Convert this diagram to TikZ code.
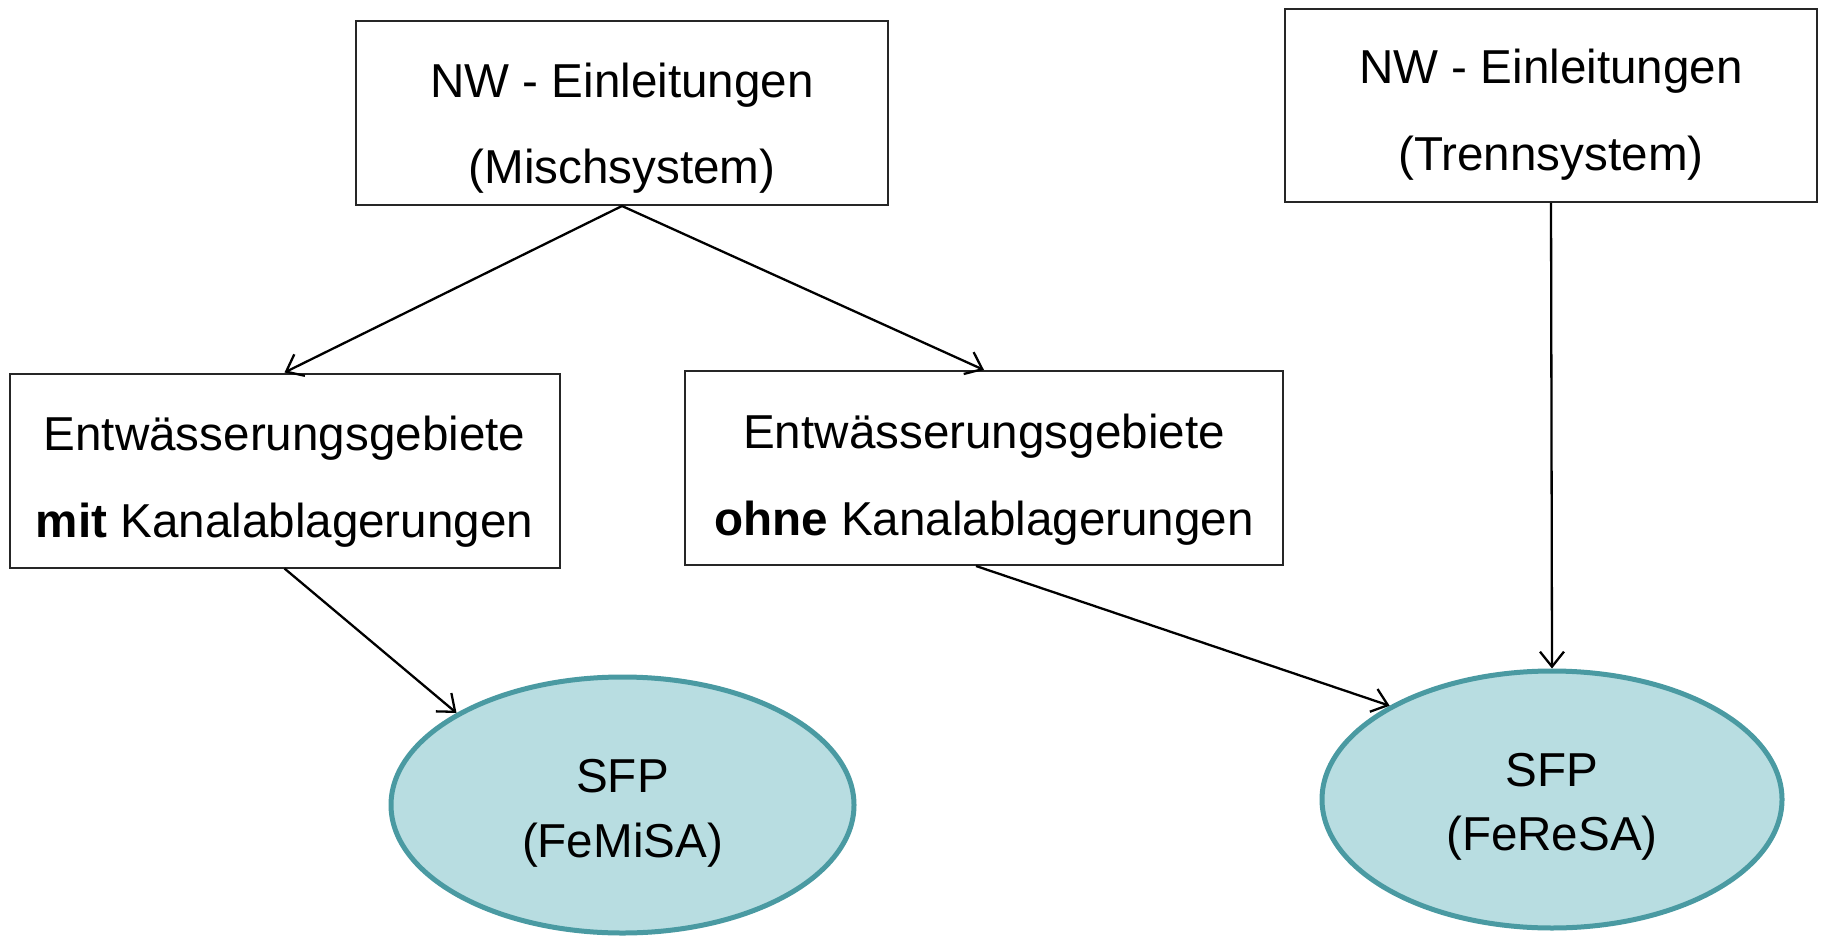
\documentclass[tikz,border=0pt]{standalone}
\usepackage{fontspec}
\setmainfont{Liberation Sans}
\usetikzlibrary{arrows.meta,shapes.geometric}
\definecolor{sfpfill}{HTML}{B8DDE1}
\definecolor{sfpline}{HTML}{4A9AA2}
\begin{document}
\begin{tikzpicture}[x=0.5pt,y=-0.5pt,
  box/.style={draw=black!85,line width=1pt,rectangle,inner sep=0pt},
  sfp/.style={ellipse,draw=sfpline,fill=sfpfill,line width=2.5pt,inner sep=0pt},
  txt/.style={anchor=base,inner sep=0pt,font=\fontsize{23.8}{28}\selectfont},
  arr/.style={line width=1.15pt,-{Straight Barb[length=7.5pt,width=12pt]}}]
\useasboundingbox (0,0) rectangle (1824,936);
% boxes
\node[box,minimum width=266pt,minimum height=92pt] (b1) at (622,113) {};
\node[box,minimum width=266pt,minimum height=96.5pt] (b2) at (1551,105.5) {};
\node[box,minimum width=275pt,minimum height=97pt] (b3) at (284.5,470.5) {};
\node[box,minimum width=299pt,minimum height=97pt] (b4) at (984,468) {};
% ellipses
\node[sfp,minimum width=231.5pt,minimum height=128pt] (e1) at (622.5,805) {};
\node[sfp,minimum width=230pt,minimum height=128.5pt] (e2) at (1552,799.5) {};
% texts
\node[txt] (t1a) at (622,97.7) {NW - Einleitungen};
\node[txt] (t1b) at (622,183.8) {(Mischsystem)};
\node[txt] (t2a) at (1551,84) {NW - Einleitungen};
\node[txt] (t2b) at (1551,171) {(Trennsystem)};
\node[txt] (t3a) at (284.5,450) {Entwässerungsgebiete};
\node[txt] (t3b) at (284.5,537.5) {\textbf{mit} Kanalablagerungen};
\node[txt] (t4a) at (984,448) {Entwässerungsgebiete};
\node[txt] (t4b) at (984,535) {\textbf{ohne} Kanalablagerungen};
\node[txt] (t5a) at (622.5,792) {SFP};
\node[txt] (t5b) at (622.5,857) {(FeMiSA)};
\node[txt] (t6a) at (1552,786) {SFP};
\node[txt] (t6b) at (1552,850) {(FeReSA)};
% connectors
\draw[arr] (b1.south) -- (b3.north);
\draw[arr] (b1.south) -- (b4.north);
\draw[arr] (b3.south) -- (e1.151);
\draw[arr] ([xshift=-4pt]b4.south) -- (e2.150);
\draw[arr] (b2.south) -- (e2.north);
\end{tikzpicture}
\end{document}
